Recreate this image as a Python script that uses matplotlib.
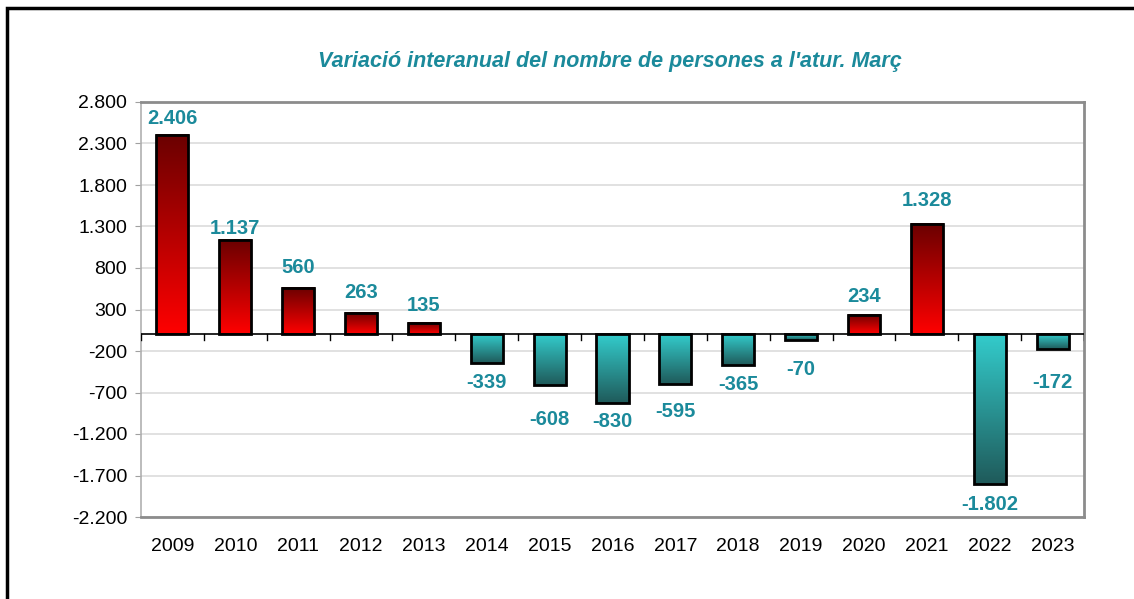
import matplotlib
matplotlib.use("Agg")
import matplotlib.pyplot as plt
import matplotlib.patches as pts
from matplotlib.colors import LinearSegmentedColormap
import numpy as np

years = ['2009', '2010', '2011', '2012', '2013', '2014', '2015', '2016',
         '2017', '2018', '2019', '2020', '2021', '2022', '2023']
values = [2406, 1137, 560, 263, 135, -339, -608, -830, -595, -365, -70,
          234, 1328, -1802, -172]
labels = ['2.406', '1.137', '560', '263', '135', '-339', '-608', '-830',
          '-595', '-365', '-70', '234', '1.328', '-1.802', '-172']
yticks = [-2200, -1700, -1200, -700, -200, 300, 800, 1300, 1800, 2300, 2800]
yticklabels = ['-2.200', '-1.700', '-1.200', '-700', '-200', '300', '800',
               '1.300', '1.800', '2.300', '2.800']
# distance (px) from bar end to label centre, as placed in the original
label_gap = [16, 12, 20, 20, 18, 20, 35, 18, 28, 20, 29, 18, 24, 21, 34]

plt.rcParams['font.family'] = ['Liberation Sans', 'DejaVu Sans']

LABEL_COL = '#1B8A9B'
red_map = LinearSegmentedColormap.from_list('r', ['#FF0000', '#6A0000'])   # bottom -> top
teal_map = LinearSegmentedColormap.from_list('t', ['#1F5A5A', '#33CCCC'])  # bottom -> top

fig = plt.figure(figsize=(11.34, 5.99), dpi=100)
ax = fig.add_axes([141/1134, 1-517/599, 943/1134, 415/599])

# outer frame, runs off the right and bottom of the picture
frame = pts.Rectangle((7/1134, -0.2), 1.2, 1.2 - 8/599, transform=fig.transFigure,
                      fill=False, edgecolor='k', linewidth=2.5, clip_on=False)
fig.patches.append(frame)

x = np.arange(len(years))
width = 0.51
grad = np.linspace(0, 1, 256).reshape(-1, 1)

bars = ax.bar(x, values, width=width, facecolor='none', edgecolor='k',
              linewidth=2, zorder=4)
for b, v in zip(bars, values):
    x0 = b.get_x()
    cmap = red_map if v > 0 else teal_map
    ax.imshow(grad, cmap=cmap, origin='lower', aspect='auto',
              extent=[x0, x0 + width, min(0, v), max(0, v)], zorder=3)

for xi, v, t, g in zip(x, values, labels, label_gap):
    off = g * 0.72 if v >= 0 else -g * 0.72
    ax.annotate(t, (xi, v), xytext=(0, off), textcoords='offset points',
                ha='center', va='center', fontsize=14.5, fontweight='bold',
                color=LABEL_COL)

ax.set_xlim(-0.5, len(years) - 0.5)
ax.set_ylim(-2200, 2800)
ax.set_yticks(yticks)
ax.set_yticklabels(yticklabels, fontsize=14)
ax.set_xticks(x)
ax.set_xticklabels(years, fontsize=14)
ax.tick_params(axis='x', length=0, pad=15)
ax.tick_params(axis='y', length=4, color='#A0A0A0', pad=6)
ax.grid(axis='y', color='#DCDCDC', linewidth=1.2, zorder=0)
ax.set_axisbelow(True)

# zero line with category divider ticks
ax.axhline(0, color='k', linewidth=1.2, zorder=5)
for b in np.arange(len(years) + 1) - 0.5:
    ax.plot([b, b], [0, -70], color='k', linewidth=1, zorder=5)

for s in ax.spines.values():
    s.set_color('#8C8C8C')
    s.set_linewidth(2)
ax.spines['left'].set_color('#B0B0B0')
ax.spines['left'].set_linewidth(1.2)

fig.text(610/1134, 1-62/599, "Variació interanual del nombre de persones a l'atur. Març",
         ha='center', va='center', fontsize=15.5, fontweight='bold', style='italic',
         color=LABEL_COL)

fig.savefig('out.png', dpi=100)
